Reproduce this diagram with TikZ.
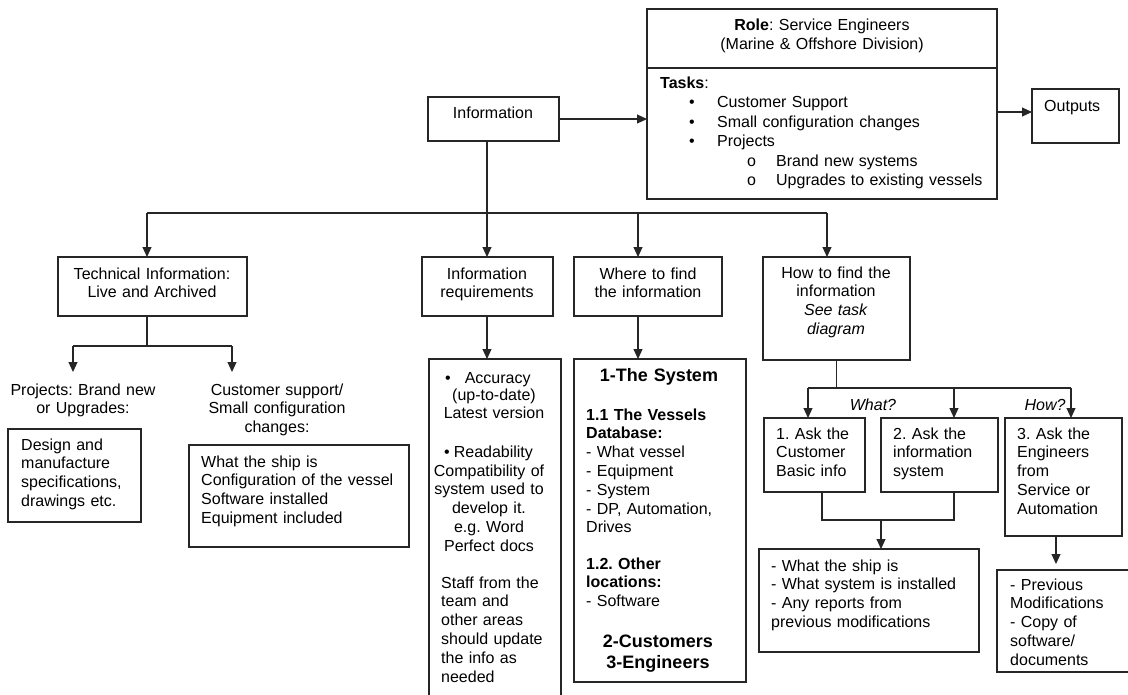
\documentclass[tikz,border=0pt]{standalone}
\usepackage{fontspec}
\setmainfont{Liberation Sans}
\usetikzlibrary{arrows.meta}
% bullet columns for the task list
\newcommand\taskbul{\makebox[57pt][l]{\hspace*{29pt}\textbullet}}
\newcommand\tasksub{\makebox[116pt][l]{\hspace*{87pt}o}}
\frenchspacing
\begin{document}
\begin{tikzpicture}[x=1pt,y=-1pt,
  box/.style={draw=black!85, line width=1.2pt, rectangle, anchor=north west, outer sep=0pt, inner sep=0pt},
  txt/.style={inner sep=0pt, text width=450pt, font=\fontsize{16}{18.8}\selectfont, text=black},
  ctxt/.style={txt, align=center, anchor=base},
  ltxt/.style={txt, align=left, anchor=base west},
  itxt/.style={ctxt, font=\itshape\fontsize{16}{18.8}\selectfont},
  bigb/.style={ctxt, font=\bfseries\fontsize{18}{21}\selectfont},
  wire/.style={draw=black!85, line width=1.1pt},
  arr/.style={wire, -{Triangle[length=10pt,width=9pt]}},
]
\useasboundingbox (0,0) rectangle (1128,694);
\clip (0,0) rectangle (1128,694);

% ---- boxes ----
\node[box, minimum width=350pt, minimum height=59pt]  (role)   at (647,9)   {};
\node[box, minimum width=350pt, minimum height=131pt] (tasks)  at (647,68)  {};
\node[box, minimum width=87pt,  minimum height=54pt]  (outbox) at (1032,89) {};
\node[box, minimum width=131pt, minimum height=44pt]  (info)   at (428,97)  {};
\node[box, minimum width=189pt, minimum height=59pt]  (tech)   at (58,257)  {};
\node[box, minimum width=131pt, minimum height=59pt]  (req)    at (422,257) {};
\node[box, minimum width=148pt, minimum height=59pt]  (where)  at (574,257) {};
\node[box, minimum width=147pt, minimum height=103pt] (how)    at (763,257) {};
\node[box, minimum width=133pt, minimum height=93pt]  (design) at (8,429)   {};
\node[box, minimum width=220pt, minimum height=102pt] (ship)   at (189,445) {};
\node[box, minimum width=132pt, minimum height=345pt] (acc)    at (429,359) {};
\node[box, minimum width=172pt, minimum height=323pt] (sys)    at (574,359) {};
\node[box, minimum width=101pt, minimum height=74pt]  (b1)     at (764,418) {};
\node[box, minimum width=117pt, minimum height=74pt]  (b2)     at (881,418) {};
\node[box, minimum width=117pt, minimum height=118pt] (b3)     at (1005,418) {};
\node[box, minimum width=220pt, minimum height=103pt] (b4)     at (759,549) {};
\node[box, minimum width=140pt, minimum height=102pt] (b5)     at (997,570) {};

% ---- texts (anchored at the baseline of their first line) ----
\node[ctxt, font=\fontsize{16}{19.5}\selectfont] (roletxt) at (822,30)
  {\textbf{Role}: Service Engineers\\(Marine \& Offshore Division)};
\node[ltxt, font=\fontsize{16}{19.5}\selectfont] (tasktxt) at (660,88)
  {\textbf{Tasks}:\\
   \taskbul Customer Support\\
   \taskbul Small configuration changes\\
   \taskbul Projects\\
   \tasksub Brand new systems\\
   \tasksub Upgrades to existing vessels};
\node[ltxt] (outtxt) at (1044,111) {Outputs};
\node[ctxt] (infotxt) at (493,118) {Information};
\node[ctxt] (techtxt) at (152,279) {Technical Information:\\Live and Archived};
\node[ctxt] (reqtxt) at (487,279) {Information\\requirements};
\node[ctxt] (wheretxt) at (648,279) {Where to find\\the information};
\node[ctxt] (howtxt) at (836,278) {How to find the\\information\\\textit{See task}\\\textit{diagram}};

\node[ctxt] (projlbl) at (83,395) {Projects: Brand new\\or Upgrades:};
\node[ctxt] (custlbl) at (277,395) {Customer support/\\Small configuration\\changes:};
\node[ltxt] (designtxt) at (21,450) {Design and\\manufacture\\specifications,\\drawings etc.};
\node[ltxt] (shiptxt) at (201,467) {What the ship is\\Configuration of the vessel\\Software installed\\Equipment included};

\node[ltxt] (acc1) at (445,383) {\textbullet\hspace*{14pt}Accuracy};
\node[ctxt] (acc2) at (494,400) {(up-to-date)\\Latest version};
\node[ltxt] (acc3) at (444,457) {\textbullet\hspace*{4pt}Readability};
\node[ctxt] (acc4) at (489,476) {Compatibility of\\system used to\\develop it.\\e.g. Word\\Perfect docs};
\node[ltxt] (acc5) at (441,588) {Staff from the\\team and\\other areas\\should update\\the info as\\needed};

\node[bigb] (sys1) at (659,381) {1-The System};
\node[ltxt] (sys2) at (586,420) {\textbf{1.1 The Vessels}\\\textbf{Database:}\\- What vessel\\- Equipment\\- System\\- DP, Automation,\\Drives};
\node[ltxt] (sys3) at (586,569) {\textbf{1.2. Other}\\\textbf{locations:}\\- Software};
\node[bigb] (sys4) at (658,647) {2-Customers\\3-Engineers};

\node[itxt] (what) at (873,410) {What?};
\node[itxt] (howq) at (1045,410) {How?};
\node[ltxt] (b1txt) at (776,439) {1. Ask the\\Customer\\Basic info};
\node[ltxt] (b2txt) at (893,439) {2. Ask the\\information\\system};
\node[ltxt] (b3txt) at (1017,439) {3. Ask the\\Engineers\\from\\Service or\\Automation};
\node[ltxt] (b4txt) at (771,571) {- What the ship is\\- What system is installed\\- Any reports from\\previous modifications};
\node[ltxt] (b5txt) at (1010,590) {- Previous\\Modifications\\- Copy of\\software/\\documents};

% ---- connectors ----
\coordinate (d1) at (147,213);
\coordinate (d2) at (487,213);
\coordinate (d3) at (638,213);
\coordinate (d4) at (827,213);
\draw[arr] (info.east) -- (info.east -| tasks.west);
\draw[arr] (tasks.east |- 0,112) -- (outbox.west |- 0,112);
\draw[wire] (d1) -- (d4);
\draw[arr] (info.south -| d2) -- (d2 |- req.north);
\draw[arr] (d1) -- (d1 |- tech.north);
\draw[arr] (d3) -- (d3 |- where.north);
\draw[arr] (d4) -- (d4 |- how.north);

\coordinate (t1) at (73,346);
\coordinate (t2) at (232,346);
\coordinate (p1) at (73,372);
\coordinate (p2) at (232,372);
\draw[wire] (d1 |- tech.south) -- (d1 |- t1);
\draw[wire] (t1) -- (t2);
\draw[arr] (t1) -- (p1);
\draw[arr] (t2) -- (p2);

\draw[arr] (d2 |- req.south) -- (d2 |- acc.north);
\draw[arr] (d3 |- where.south) -- (d3 |- sys.north);

\coordinate (h1) at (808,388);
\coordinate (h2) at (954,388);
\coordinate (h3) at (1071,388);
\draw[wire] (how.south) -- (how.south |- h1);
\draw[wire] (h1) -- (h3);
\draw[arr] (h1) -- (h1 |- b1.north);
\draw[arr] (h2) -- (h2 |- b2.north);
\draw[arr] (h3) -- (h3 |- b3.north);

\coordinate (m1) at (822,520);
\coordinate (m2) at (954,520);
\coordinate (m3) at (881,520);
\draw[wire] (m1 |- b1.south) -- (m1) -- (m2) -- (m2 |- b2.south);
\draw[arr] (m3) -- (m3 |- b4.north);
\coordinate (m5) at (1056,536);
\draw[arr, shorten >=6pt] (m5 |- b3.south) -- (m5 |- b5.north);
\end{tikzpicture}
\end{document}
